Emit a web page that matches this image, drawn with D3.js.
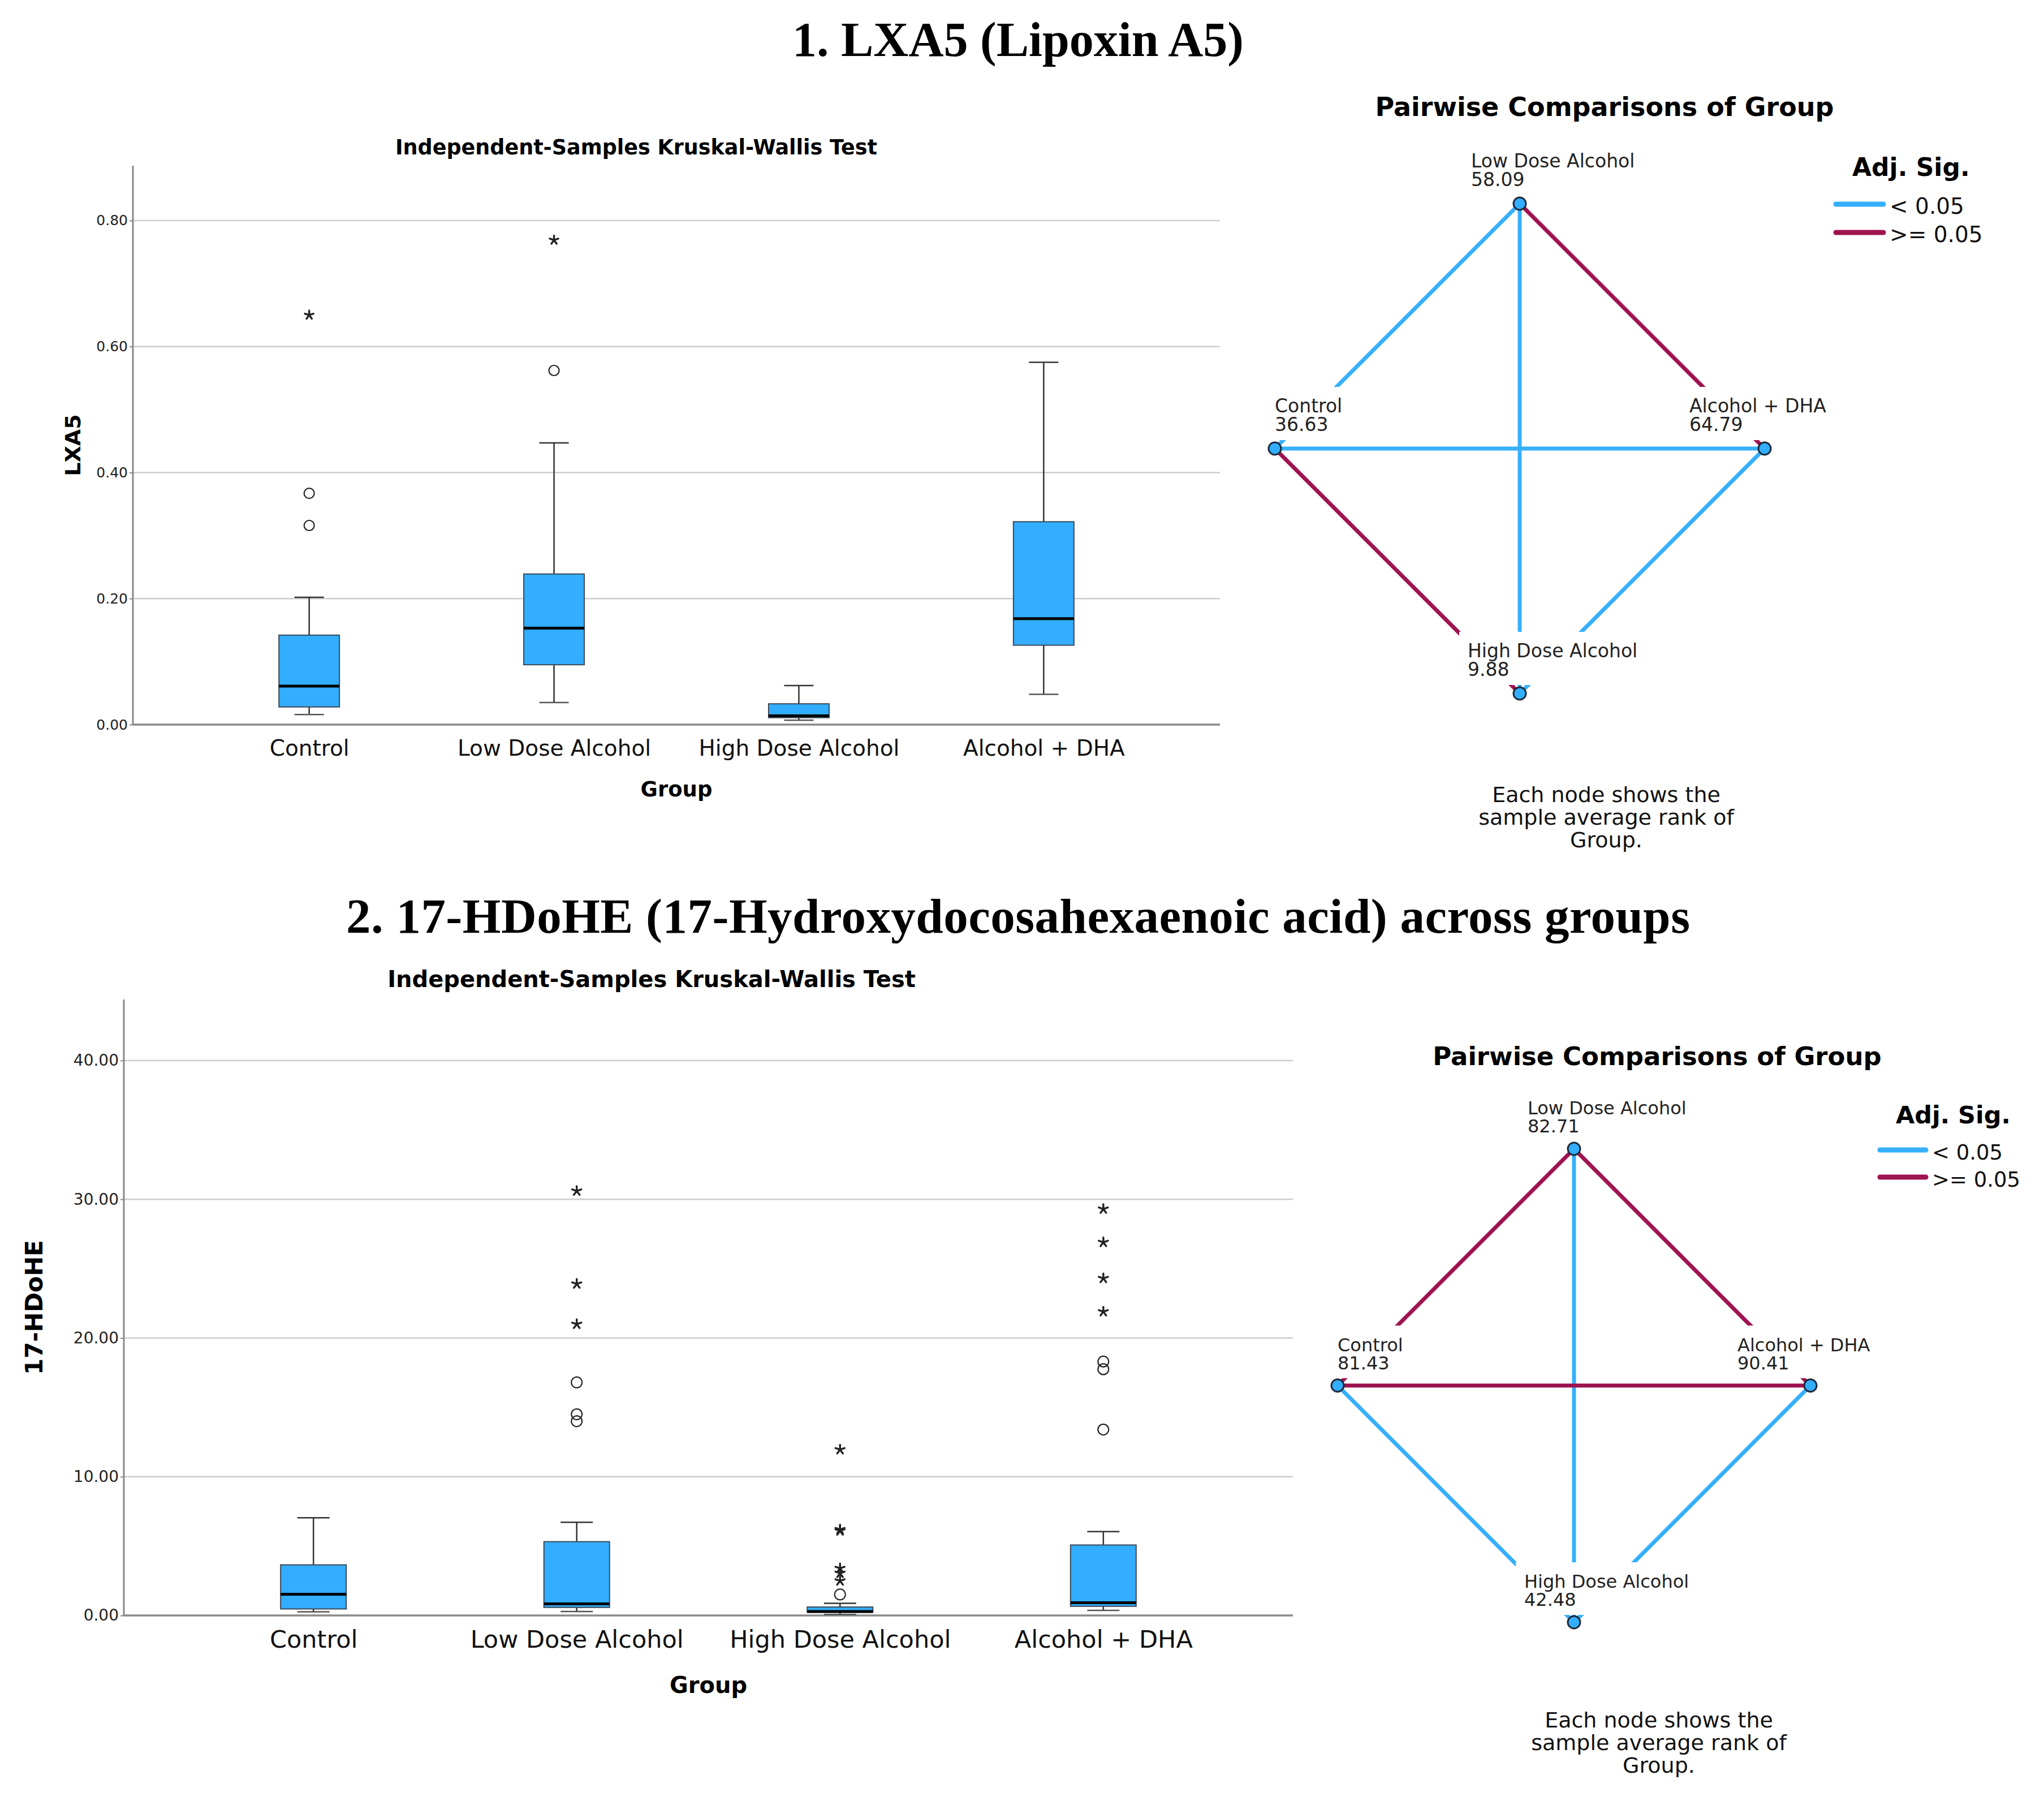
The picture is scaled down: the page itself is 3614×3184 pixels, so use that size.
<!doctype html>
<html lang="en">
<head>
<meta charset="UTF-8">
<title>LXA5 and 17-HDoHE across groups</title>
<script src="https://cdn.jsdelivr.net/npm/d3@7"></script>
<style>
  body { margin: 0; background: #fff; }
  svg { display: block; }
</style>
</head>
<body>
<script>
// groups, in plotting order
const groups = ['Control', 'Low Dose Alcohol', 'High Dose Alcohol', 'Alcohol + DHA'];

// LXA5 box plot summary
const lxa5Low     = [0.016, 0.035, 0.007, 0.048];
const lxa5Q1      = [0.028, 0.095, 0.011, 0.126];
const lxa5Median  = [0.061, 0.153, 0.014, 0.168];
const lxa5Q3      = [0.142, 0.239, 0.033, 0.322];
const lxa5High    = [0.202, 0.447, 0.062, 0.575];
const lxa5Circles = [[0.367, 0.316], [0.562], [], []];
const lxa5Stars   = [[0.650], [0.769], [], []];
const lxa5Ticks   = [0, 0.2, 0.4, 0.6, 0.8];

// 17-HDoHE box plot summary
const hdoheLow     = [0.26, 0.29, 0.07, 0.37];
const hdoheQ1      = [0.47, 0.58, 0.23, 0.66];
const hdoheMedian  = [1.53, 0.84, 0.29, 0.92];
const hdoheQ3      = [3.65, 5.32, 0.61, 5.08];
const hdoheHigh    = [7.04, 6.72, 0.88, 6.04];
const hdoheCircles = [[], [16.8, 14.5, 14.0], [1.51], [18.3, 17.75, 13.4]];
const hdoheStars   = [[], [30.6, 23.9, 21.0], [11.96, 6.2, 6.1, 3.4, 3.05, 2.5], [29.3, 26.9, 24.3, 21.9]];
const hdoheTicks   = [0, 10, 20, 30, 40];

// pairwise comparisons: mean ranks and whether adj. sig < 0.05
const lxa5Ranks  = [36.63, 58.09, 9.88, 64.79];
const hdoheRanks = [81.43, 82.71, 42.48, 90.41];
const pairs    = [[1, 0], [1, 3], [1, 2], [0, 3], [0, 2], [3, 2]];
const lxa5Sig  = [true, false, true, true, false, true];
const hdoheSig = [false, false, true, false, true, true];
const legendLabels = ['< 0.05', '>= 0.05'];
const footnote = ['Each node shows the', 'sample average rank of', 'Group.'];

const font = '"DejaVu Sans", Verdana, sans-serif';
const serif = '"Liberation Serif", "Times New Roman", serif';
const boxBlue = '#33adff';
const sigBlue = '#36b0fb';
const maroon = '#9e1450';

const svg = d3.select('body').append('svg')
    .attr('width', 3614)
    .attr('height', 3184)
    .attr('font-family', font)

svg.append('rect').attr('width', 3614).attr('height', 3184).attr('fill', '#fff')

// main titles
svg.append('text').attr('x', 1800).attr('y', 99).attr('text-anchor', 'middle')
    .attr('font-family', serif).attr('font-weight', 'bold').attr('font-size', 86)
    .text('1. LXA5 (Lipoxin A5)')
svg.append('text').attr('x', 1800).attr('y', 1649).attr('text-anchor', 'middle')
    .attr('font-family', serif).attr('font-weight', 'bold').attr('font-size', 87)
    .attr('textLength', 2376).attr('lengthAdjust', 'spacing')
    .text('2. 17-HDoHE (17-Hydroxydocosahexaenoic acid) across groups')

// five spoke asterisk used by SPSS for extreme values
const starPath = r => d3.range(5).map(i => {
    const a = -Math.PI / 2 + i * 2 * Math.PI / 5
    return `M0,0L${(r * Math.cos(a)).toFixed(2)},${(r * Math.sin(a)).toFixed(2)}`
}).join('')

function boxPanel(o) {
    const g = svg.append('g')
    const x = d3.scalePoint().domain(groups).range([o.left, o.right]).padding(0.72)
    const y = d3.scaleLinear().domain([0, o.yMax]).range([o.bottom, o.top])

    g.append('text').attr('x', o.titleX).attr('y', o.titleY).attr('text-anchor', 'middle')
        .attr('font-weight', 'bold').attr('font-size', o.titleSize).text('Independent-Samples Kruskal-Wallis Test')

    // grid
    g.selectAll('line.grid').data(o.ticks.filter(t => t > 0)).join('line')
        .attr('class', 'grid')
        .attr('x1', o.left).attr('x2', o.right)
        .attr('y1', d => y(d)).attr('y2', d => y(d))
        .attr('stroke', '#cdcdcd').attr('stroke-width', 2.5)

    // y axis ticks and labels
    const ya = g.append('g').attr('transform', `translate(${o.left},0)`)
        .call(d3.axisLeft(y).tickValues(o.ticks).tickFormat(d3.format('.2f')).tickSize(6).tickPadding(3))
    ya.select('.domain').remove()
    ya.selectAll('.tick line').attr('stroke', '#888').attr('stroke-width', 2)
    ya.selectAll('.tick text').attr('font-family', font).attr('font-size', o.tickSize).attr('fill', '#222')

    // x axis labels
    const xa = g.append('g').attr('transform', `translate(0,${o.bottom})`)
        .call(d3.axisBottom(x).tickSize(0).tickPadding(o.catBaseline - o.bottom - 0.71 * o.catSize))
    xa.select('.domain').remove()
    xa.selectAll('.tick text').attr('font-family', font).attr('font-size', o.catSize).attr('fill', '#111')

    // axis lines
    g.append('line').attr('x1', o.left).attr('x2', o.left).attr('y1', o.top).attr('y2', o.bottom)
        .attr('stroke', '#8a8a8a').attr('stroke-width', 3)
    g.append('line').attr('x1', o.left).attr('x2', o.right).attr('y1', o.bottom).attr('y2', o.bottom)
        .attr('stroke', '#8a8a8a').attr('stroke-width', 3.5)

    g.append('text').attr('x', (o.left + o.right) / 2).attr('y', o.groupY).attr('text-anchor', 'middle')
        .attr('font-weight', 'bold').attr('font-size', o.groupSize).text('Group')
    g.append('text').attr('transform', `translate(${o.yLabelX},${(o.top + o.bottom) / 2}) rotate(-90)`)
        .attr('text-anchor', 'middle').attr('dy', '0.36em')
        .attr('font-weight', 'bold').attr('font-size', o.yLabelSize).text(o.yLabel)

    const boxes = groups.map((name, i) => ({
        name, low: o.low[i], q1: o.q1[i], med: o.median[i], q3: o.q3[i], high: o.high[i],
        circles: o.circles[i], stars: o.stars[i]
    }))
    const bw = o.boxWidth, cw = o.capWidth
    const b = g.selectAll('g.box').data(boxes).join('g').attr('class', 'box')
        .attr('transform', d => `translate(${x(d.name)},0)`)

    b.append('line').attr('y1', d => y(d.high)).attr('y2', d => y(d.q3))
        .attr('stroke', '#333').attr('stroke-width', 2.5)
    b.append('line').attr('y1', d => y(d.q1)).attr('y2', d => y(d.low))
        .attr('stroke', '#333').attr('stroke-width', 2.5)
    b.append('line').attr('x1', -cw / 2).attr('x2', cw / 2).attr('y1', d => y(d.high)).attr('y2', d => y(d.high))
        .attr('stroke', '#333').attr('stroke-width', 2.5)
    b.append('line').attr('x1', -cw / 2).attr('x2', cw / 2).attr('y1', d => y(d.low)).attr('y2', d => y(d.low))
        .attr('stroke', '#555').attr('stroke-width', 2.5)
    b.append('rect').attr('x', -bw / 2).attr('width', bw)
        .attr('y', d => y(d.q3)).attr('height', d => y(d.q1) - y(d.q3))
        .attr('fill', boxBlue).attr('stroke', '#3a4a5a').attr('stroke-width', 2)
    b.append('line').attr('x1', -bw / 2).attr('x2', bw / 2).attr('y1', d => y(d.med)).attr('y2', d => y(d.med))
        .attr('stroke', '#000').attr('stroke-width', 5)

    b.selectAll('circle').data(d => d.circles).join('circle')
        .attr('cy', d => y(d)).attr('r', o.circleR)
        .attr('fill', 'none').attr('stroke', '#222').attr('stroke-width', 2.2)
    b.selectAll('path.star').data(d => d.stars).join('path').attr('class', 'star')
        .attr('transform', d => `translate(0,${y(d)})`)
        .attr('d', starPath(o.starR))
        .attr('stroke', '#222').attr('stroke-width', 3.4).attr('stroke-linecap', 'round').attr('fill', 'none')
}

// node spots on the diamond: Control left, Low top, High bottom, DHA right
const spots = [[-1, 0], [0, 1], [0, -1], [1, 0]]

function network(o) {
    const g = svg.append('g')
    const nx = d3.scaleLinear().domain([-1, 1]).range([o.left, o.right])
    const ny = d3.scaleLinear().domain([-1, 1]).range([o.bottom, o.top])
    const nodes = groups.map((name, i) => ({
        name, rank: o.ranks[i], x: nx(spots[i][0]), y: ny(spots[i][1]), dx: o.labelDx[i]
    }))

    g.append('text').attr('x', o.titleX).attr('y', o.titleY).attr('text-anchor', 'middle')
        .attr('font-weight', 'bold').attr('font-size', o.titleSize).text('Pairwise Comparisons of Group')

    const edges = pairs.map((p, i) => ({ a: nodes[p[0]], b: nodes[p[1]], sig: o.sig[i] }))
    g.selectAll('line.edge').data(edges).join('line').attr('class', 'edge')
        .attr('x1', d => d.a.x).attr('y1', d => d.a.y)
        .attr('x2', d => d.b.x).attr('y2', d => d.b.y)
        .attr('stroke', d => d.sig ? sigBlue : maroon).attr('stroke-width', 7)

    // node labels sit on white plates that hide the edge ends
    const lab = g.selectAll('g.lab').data(nodes).join('g').attr('class', 'lab')
        .attr('transform', d => `translate(${d.x + d.dx},${d.y})`)
    const plate = lab.append('rect').attr('fill', '#fff')
    lab.append('text').attr('class', 'name').attr('y', o.line1).attr('font-size', o.labelSize)
        .attr('fill', '#222').text(d => d.name)
    lab.append('text').attr('y', o.line2).attr('font-size', o.labelSize)
        .attr('fill', '#222').text(d => d3.format('.2f')(d.rank))
    plate.each(function () {
        const w = this.parentNode.querySelector('text.name').getComputedTextLength()
        d3.select(this).attr('x', -15).attr('width', w + 27)
            .attr('y', o.line1 - 45).attr('height', o.line2 + 16 - (o.line1 - 45))
    })

    g.selectAll('circle.node').data(nodes).join('circle').attr('class', 'node')
        .attr('cx', d => d.x).attr('cy', d => d.y).attr('r', 11)
        .attr('fill', boxBlue).attr('stroke', '#1c2a3a').attr('stroke-width', 3)

    // legend
    g.append('text').attr('x', o.legX).attr('y', o.legTitleY).attr('font-weight', 'bold')
        .attr('font-size', o.legTitleSize).text('Adj. Sig.')
    const leg = g.selectAll('g.leg').data(legendLabels).join('g').attr('class', 'leg')
        .attr('transform', (d, i) => `translate(${o.legLineX},${o.legY + i * o.legStep})`)
    leg.append('line').attr('x2', o.legLineW)
        .attr('stroke', (d, i) => i === 0 ? sigBlue : maroon).attr('stroke-width', 9).attr('stroke-linecap', 'round')
    leg.append('text').attr('x', o.legLineW + 11).attr('y', 17).attr('font-size', o.legSize)
        .attr('fill', '#111').text(d => d)

    g.selectAll('text.foot').data(footnote).join('text').attr('class', 'foot')
        .attr('x', o.footX).attr('y', (d, i) => o.footY + i * o.footStep)
        .attr('text-anchor', 'middle').attr('font-size', o.footSize).attr('fill', '#111').text(d => d)
}

boxPanel({
    left: 235, right: 2157, top: 293, bottom: 1281, yMax: 0.887,
    ticks: lxa5Ticks, tickSize: 25,
    low: lxa5Low, q1: lxa5Q1, median: lxa5Median, q3: lxa5Q3, high: lxa5High,
    circles: lxa5Circles, stars: lxa5Stars,
    boxWidth: 107, capWidth: 52, circleR: 9, starR: 8,
    titleX: 1125, titleY: 273, titleSize: 36.5,
    catSize: 39, catBaseline: 1336, groupY: 1408, groupSize: 37,
    yLabel: 'LXA5', yLabelX: 128, yLabelSize: 38
})

boxPanel({
    left: 219, right: 2286, top: 1767, bottom: 2856, yMax: 44.4,
    ticks: hdoheTicks, tickSize: 28,
    low: hdoheLow, q1: hdoheQ1, median: hdoheMedian, q3: hdoheQ3, high: hdoheHigh,
    circles: hdoheCircles, stars: hdoheStars,
    boxWidth: 116, capWidth: 57, circleR: 9.5, starR: 8.5,
    titleX: 1152, titleY: 1745, titleSize: 40,
    catSize: 43, catBaseline: 2913, groupY: 2993, groupSize: 40,
    yLabel: '17-HDoHE', yLabelX: 60, yLabelSize: 42
})

network({
    left: 2254, right: 3120, top: 360, bottom: 1226,
    ranks: lxa5Ranks, sig: lxa5Sig, labelDx: [0, -86, -92, -133],
    line1: -64, line2: -31, labelSize: 33,
    titleX: 2837, titleY: 205, titleSize: 46,
    legX: 3275, legTitleY: 311, legTitleSize: 44,
    legLineX: 3246, legLineW: 84, legY: 361, legStep: 50, legSize: 39,
    footX: 2840, footY: 1418, footStep: 40, footSize: 38
})

network({
    left: 2365, right: 3201, top: 2031, bottom: 2868,
    ranks: hdoheRanks, sig: hdoheSig, labelDx: [0, -82, -88, -129],
    line1: -61, line2: -29, labelSize: 32,
    titleX: 2930, titleY: 1883, titleSize: 45,
    legX: 3352, legTitleY: 1986, legTitleSize: 43,
    legLineX: 3324, legLineW: 81, legY: 2033, legStep: 48, legSize: 37,
    footX: 2933, footY: 3054, footStep: 40, footSize: 38
})
</script>
</body>
</html>
